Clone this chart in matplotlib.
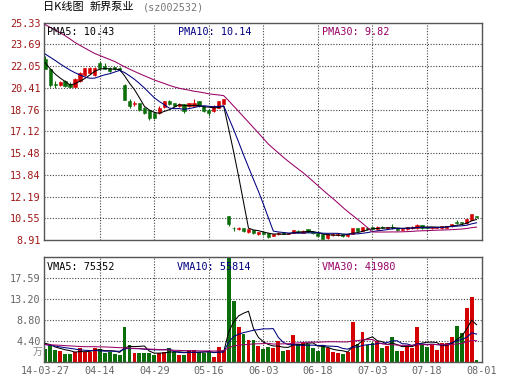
import matplotlib
matplotlib.use("Agg")
import matplotlib.pyplot as plt
import numpy as np
import pandas as pd

plt.rcParams['font.family'] = ['DejaVu Sans Mono']

# 准备数据 (2014-03-27 ~ 2014-08-01, 88个交易日)
tick_pos = [0, 11, 22, 33, 44, 55, 66, 77, 88]
tick_labels = ['14-03-27', '04-14', '04-29', '05-16', '06-03',
               '06-18', '07-03', '07-18', '08-01']

open_ = [22.6, 21.8, 20.7, 20.6, 20.9, 20.7, 20.5, 20.9, 21.35, 21.5,
         21.35, 22.3, 22.05, 21.92, 21.97, 21.92, 20.66, 19.45, 19.2, 19.25,
         18.88, 18.7, 18.5, 18.5, 18.95, 19.4, 19.27, 19.02, 19.15, 19.02,
         19.05, 19.4, 19.02, 18.77, 18.64, 18.9, 19.22, 10.72, 9.85, 9.73,
         9.8, 9.55, 9.67, 9.35, 9.5, 9.42, 9.22, 9.35, 9.5, 9.37,
         9.45, 9.62, 9.45, 9.72, 9.55, 9.42, 9.35, 9.05, 9.3, 9.3,
         9.37, 9.2, 9.37, 9.79, 9.62, 9.85, 9.87, 9.72, 9.92, 9.8,
         9.87, 9.8, 9.7, 9.72, 9.8, 9.8, 10.05, 9.9, 9.8, 9.82,
         9.8, 9.82, 9.95, 10.3, 10.25, 10.17, 10.42, 10.7]
close = [21.85, 20.6, 20.6, 20.85, 20.55, 20.5, 21.1, 21.55, 21.87, 21.87,
         21.92, 21.87, 21.85, 21.67, 21.8, 21.75, 19.52, 19.05, 19.25, 18.7,
         18.54, 18.12, 18.15, 18.92, 19.4, 19.15, 19.05, 19.15, 18.65, 19.27,
         19.3, 19.02, 18.64, 18.51, 19.02, 19.4, 19.55, 10.1, 9.78, 9.83,
         9.6, 9.72, 9.42, 9.5, 9.35, 9.17, 9.37, 9.45, 9.37, 9.42,
         9.67, 9.5, 9.62, 9.55, 9.42, 9.25, 8.98, 9.35, 9.4, 9.38,
         9.2, 9.35, 9.79, 9.62, 9.87, 9.75, 9.75, 9.92, 9.82, 9.87,
         9.8, 9.67, 9.77, 9.87, 9.92, 10.05, 9.8, 9.82, 9.9, 9.87,
         9.97, 9.97, 10.1, 10.17, 10.17, 10.47, 10.85, 10.65]
high = [22.85, 21.85, 20.9, 20.95, 21.0, 20.85, 21.15, 21.6, 21.9, 21.95,
        22.0, 22.45, 22.3, 21.95, 22.0, 22.0, 20.7, 19.55, 19.4, 19.3,
        18.95, 18.75, 18.6, 19.0, 19.45, 19.52, 19.3, 19.25, 19.2, 19.3,
        19.6, 19.45, 19.05, 18.8, 19.1, 19.45, 19.6, 10.75, 9.92, 9.88,
        9.82, 9.75, 9.7, 9.52, 9.55, 9.45, 9.4, 9.48, 9.52, 9.45,
        9.7, 9.65, 9.65, 9.75, 9.58, 9.45, 9.38, 9.38, 9.45, 9.42,
        9.4, 9.38, 9.82, 9.82, 9.9, 9.9, 9.9, 9.95, 9.95, 9.9,
        10.1, 9.82, 9.8, 9.9, 9.95, 10.15, 10.08, 9.92, 9.92, 9.9,
        10.0, 10.0, 10.12, 10.42, 10.28, 10.5, 10.9, 10.75]
low = [21.8, 20.5, 20.4, 20.55, 20.45, 20.4, 20.45, 20.85, 21.3, 21.45,
       21.3, 21.8, 21.8, 21.6, 21.75, 21.7, 19.5, 18.85, 19.05, 18.65,
       18.45, 18.0, 18.05, 18.45, 18.9, 19.1, 19.0, 18.95, 18.5, 18.95,
       19.0, 18.95, 18.6, 18.26, 18.6, 18.85, 19.2, 9.98, 9.62, 9.7,
       9.55, 9.42, 9.4, 9.3, 9.3, 9.09, 9.2, 9.3, 9.33, 9.33,
       9.42, 9.47, 9.42, 9.5, 9.4, 9.22, 8.95, 9.0, 9.25, 9.25,
       9.15, 9.15, 9.33, 9.58, 9.6, 9.7, 9.7, 9.7, 9.78, 9.77,
       9.72, 9.62, 9.67, 9.7, 9.77, 9.77, 9.77, 9.78, 9.77, 9.8,
       9.77, 9.8, 9.92, 10.12, 10.1, 10.15, 10.4, 10.6]
# 成交量 (万手)
volume = [2.65, 3.6, 2.4, 2.2, 1.7, 1.7, 2.1, 2.9, 2.1, 2.1,
          2.9, 2.6, 1.9, 2.1, 1.7, 1.5, 7.3, 3.5, 1.9, 1.9,
          1.9, 1.9, 1.4, 1.9, 2.1, 2.8, 2.1, 1.5, 1.4, 2.4,
          2.4, 2.1, 1.9, 2.1, 1.0, 3.1, 2.4, 22.6, 12.7, 7.3,
          5.9, 4.5, 4.5, 3.35, 2.65, 3.1, 2.9, 4.4, 2.2, 2.4,
          5.6, 3.6, 4.0, 3.8, 2.8, 2.2, 3.35, 2.8, 1.95, 1.75,
          1.6, 2.1, 8.4, 3.8, 6.3, 3.6, 4.0, 4.3, 2.8, 3.35,
          5.2, 2.2, 2.2, 3.35, 2.9, 7.3, 3.8, 3.1, 3.5, 2.4,
          4.0, 4.0, 5.2, 7.5, 6.1, 11.3, 13.6, 0.35]

# 图中起始几天的均线值 (窗口之前的数据不在图内, 直接读图)
ma5_head = [22.3, 21.85, 21.45, 21.15]
ma10_head = [22.96, 22.72, 22.48, 22.22, 21.98, 21.75, 21.55, 21.38, 21.22]
ma30_head = [25.18, 24.98, 24.78, 24.57, 24.35, 24.1, 23.84, 23.62, 23.41, 23.2,
             23.0, 22.85, 22.7, 22.55, 22.4, 22.2, 22.0, 21.82, 21.65, 21.48,
             21.32, 21.16, 21.0, 20.87, 20.74, 20.6, 20.48, 20.38, 20.3]
vma5_head = [3.85, 3.6, 3.1, 2.8]
vma10_head = [3.6, 3.45, 3.3, 3.1, 2.95, 2.8, 2.65, 2.5, 2.4]
vma30_head = [3.6, 3.55, 3.5, 3.45, 3.38, 3.32, 3.26, 3.2, 3.15, 3.15,
              3.15, 3.12, 3.1, 3.05, 3.0, 2.95, 2.9, 2.85, 2.8, 2.75,
              2.7, 2.65, 2.6, 2.55, 2.5, 2.45, 2.4, 2.37, 2.34]

price_ticks = [8.91, 10.55, 12.19, 13.84, 15.48, 17.12, 18.76, 20.41, 22.05, 23.69, 25.33]
vol_ticks = [4.40, 8.80, 13.20, 17.59]


def moving_average(values, n, head):
    s = pd.Series(values).rolling(n).mean().to_numpy()
    s[:len(head)] = head
    return s


RED = '#d40000'
GREEN = '#0a6e0a'
NAVY = '#000080'
PURPLE = '#990066'
GRID = '#444444'
LW = 0.75

o = np.array(open_)
c = np.array(close)
x = np.arange(len(c))
colors = np.where(c >= o, RED, GREEN)

W, H = 530, 391
fig = plt.figure(figsize=(W / 100, H / 100), dpi=100)
ax1 = fig.add_axes([43.5 / W, 1 - 240 / H, 438 / W, 217.3 / H])
ax2 = fig.add_axes([43.5 / W, 1 - 361.7 / H, 438 / W, 104.7 / H])

# K线
ax1.vlines(x, low, high, colors=colors, linewidth=0.8, zorder=3)
body_h = np.maximum(np.abs(c - o), 0.04)
ax1.bar(x, body_h, bottom=np.minimum(o, c), width=0.64, color=colors,
        edgecolor=colors, linewidth=0.4, zorder=3)

ax1.plot(x, moving_average(close, 5, ma5_head), color='black', linewidth=LW, zorder=4)
ax1.plot(x, moving_average(close, 10, ma10_head), color=NAVY, linewidth=LW, zorder=4)
ax1.plot(x, moving_average(close, 30, ma30_head), color=PURPLE, linewidth=LW, zorder=4)

# 成交量
ax2.bar(x, volume, width=0.78, color=colors, linewidth=0, zorder=2)
ax2.plot(x, moving_average(volume, 5, vma5_head), color='black', linewidth=LW, zorder=4)
ax2.plot(x, moving_average(volume, 10, vma10_head), color=NAVY, linewidth=LW, zorder=4)
ax2.plot(x, moving_average(volume, 30, vma30_head), color=PURPLE, linewidth=LW, zorder=4)

for ax in (ax1, ax2):
    ax.set_xlim(-0.35, 88)
    for p in tick_pos[1:-1]:
        ax.axvline(p, color=GRID, linestyle=(0, (1, 1.5)), linewidth=0.8, zorder=1)
    for s in ax.spines.values():
        s.set_color('#555555')
        s.set_linewidth(1.0)
    ax.tick_params(length=0, labelsize=7.3)
    ax.set_facecolor('white')

ax1.set_ylim(price_ticks[0], price_ticks[-1])
ax1.set_yticks(price_ticks)
ax1.set_yticklabels([f"{v:.2f}" for v in price_ticks], color='#a01818')
ax1.tick_params(axis='y', pad=2)
ax1.set_xticks([])
for v in price_ticks[1:-1]:
    ax1.axhline(v, color=GRID, linestyle=(0, (1, 1.5)), linewidth=0.8, zorder=1)

ax2.set_ylim(0, 21.99)
ax2.set_yticks(vol_ticks)
ax2.set_yticklabels([f"{v:.2f}" for v in vol_ticks], color='#666666')
ax2.tick_params(axis='y', pad=2)
for v in vol_ticks:
    ax2.axhline(v, color=GRID, linestyle=(0, (1, 1.5)), linewidth=0.8, zorder=1)
ax2.set_xticks(tick_pos)
ax2.set_xticklabels(tick_labels, color='#666666')
ax2.tick_params(axis='x', pad=3)


def px_text(px, py, s, **kw):
    fig.text(px / W, 1 - py / H, s, va='center', **kw)


# 标题
cjk = ['Noto Sans CJK SC', 'DejaVu Sans']
px_text(43, 7, '日K线图', family=cjk, fontsize=8)
px_text(90, 7, '新界泵业', family=cjk, fontsize=8)
px_text(143, 7, '(sz002532)', color='#777777', fontsize=7.3)

# 均线数值
px_text(47, 32, 'PMA5: 10.43', color='black', fontsize=7.3)
px_text(178, 32, 'PMA10: 10.14', color=NAVY, fontsize=7.3)
px_text(322, 32, 'PMA30: 9.82', color=PURPLE, fontsize=7.3)
px_text(47, 267, 'VMA5: 75352', color='black', fontsize=7.3)
px_text(177, 267, 'VMA10: 55814', color=NAVY, fontsize=7.3)
px_text(322, 267, 'VMA30: 41980', color=PURPLE, fontsize=7.3)
px_text(42, 352, '万', family=cjk, color='#888888', fontsize=7, ha='right')

fig.savefig('out.png', dpi=100)
